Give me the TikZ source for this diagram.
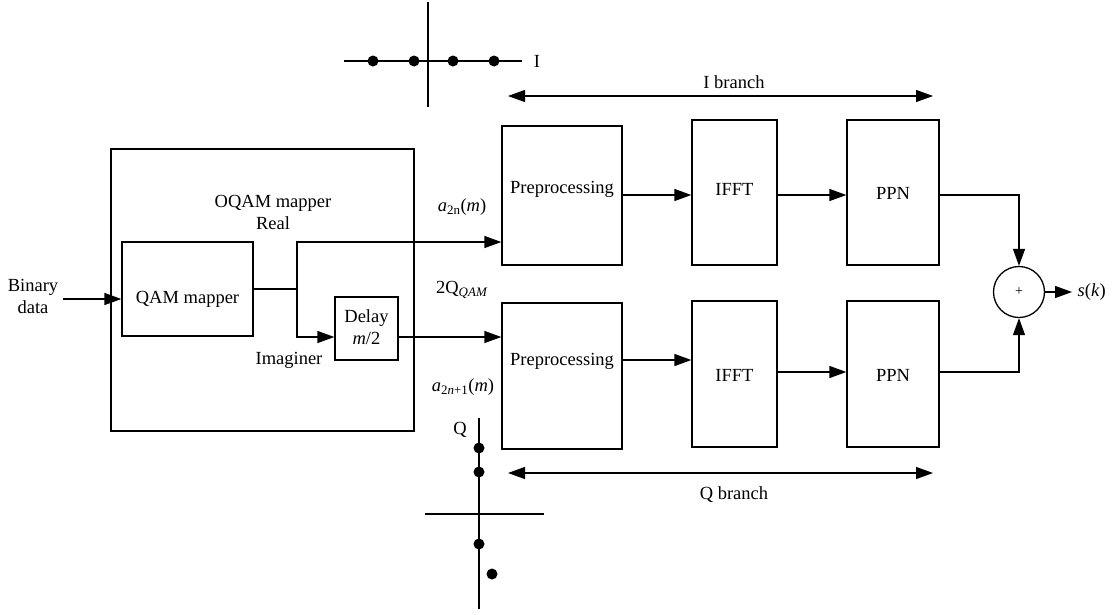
\documentclass[tikz,border=0pt]{standalone}
\usepackage{fontspec}
\setmainfont{Liberation Serif}
\usetikzlibrary{arrows.meta,calc}
\begin{document}
\begin{tikzpicture}[x=1pt,y=-1pt,
  line width=1.3pt,
  every node/.style={font=\fontsize{18.5}{22}\selectfont, inner sep=0pt},
  blk/.style={draw, rectangle},
  txt/.style={align=center},
  arr/.style={-{Triangle[length=17pt,width=12pt]}},
  darr/.style={{Triangle[length=17pt,width=12pt]}-{Triangle[length=17pt,width=12pt]}},
  dot/.style={fill=black}]
\useasboundingbox (0,0) rectangle (1115,614);

% ---- blocks ----
\node[blk, minimum width=303pt, minimum height=282pt] (oqam) at (262.5,290) {};
\node[blk, minimum width=131pt, minimum height=94pt] (qam) at (187.5,289) {};
\node[blk, minimum width=63pt, minimum height=63pt] (delay) at (366.5,328.5) {};
\node[blk, minimum width=120pt, minimum height=139pt] (pre1) at (562,195.5) {};
\node[blk, minimum width=120pt, minimum height=146pt] (pre2) at (562,376) {};
\node[blk, minimum width=85pt, minimum height=145pt] (ifft1) at (734.5,192.5) {};
\node[blk, minimum width=85pt, minimum height=146pt] (ifft2) at (734.5,374) {};
\node[blk, minimum width=92pt, minimum height=145pt] (ppn1) at (893,192.5) {};
\node[blk, minimum width=92pt, minimum height=146pt] (ppn2) at (893,374) {};
\node[draw, circle, minimum size=51pt, font=\fontsize{14}{15}\selectfont] (sum) at (1019,292) {+};

% ---- block texts ----
\node (tqam) at (187.5,299) {QAM mapper};
\node[txt] (tdelay) at (366.5,327) {Delay\\\textit{m}/2};
\node (tpre1) at (562,189) {Preprocessing};
\node (tpre2) at (562,361) {Preprocessing};
\node (tifft1) at (734.5,189) {IFFT};
\node (tifft2) at (734.5,375) {IFFT};
\node (tppn1) at (893,193) {PPN};
\node (tppn2) at (893,375) {PPN};

% ---- labels ----
\node[txt] (toqam) at (273,212) {OQAM mapper\\Real};
\node (timag) at (289,360) {Imaginer};
\node[txt] (tbin) at (33,296) {Binary\\data};
\node (ta2n) at (462,207) {\textit{a}\textsubscript{2n}(\textit{m})};
\node (t2q) at (462,290) {2Q\textsubscript{\textit{QAM}}};
\node (ta2n1) at (463,387) {\textit{a}\textsubscript{2\textit{n}+1}(\textit{m})};
\node (tsk) [anchor=west] at (1077,292) {\textit{s}(\textit{k})};
\node (tI) at (537,61) {I};
\node (tQ) at (460,430) {Q};
\node (tib) at (734,82) {I branch};
\node (tqb) at (734,495) {Q branch};

% ---- signal rows ----
\coordinate (rowa) at (0,242);
\coordinate (rowb) at (0,337);
\coordinate (rowc) at (0,195);
\coordinate (rowd) at (0,360);
\coordinate (rowe) at (0,372);
\coordinate (bin) at (63,299);
\coordinate (split) at (297,289);
\coordinate (out) at (1072,292);

\draw[arr] (bin) -- (bin -| qam.west);
\draw (qam.east) -- (split);
\draw[arr] (split) |- (pre1.west |- rowa);
\draw[arr] (split) |- (delay.west |- rowb);
\draw[arr] (delay.east |- rowb) -- (pre2.west |- rowb);
\draw[arr] (pre1.east |- rowc) -- (ifft1.west |- rowc);
\draw[arr] (ifft1.east |- rowc) -- (ppn1.west |- rowc);
\draw[arr] (pre2.east |- rowd) -- (ifft2.west |- rowd);
\draw[arr] (ifft2.east |- rowe) -- (ppn2.west |- rowe);
\draw[arr] (ppn1.east |- rowc) -| (sum.north);
\draw[arr] (ppn2.east |- rowe) -| (sum.south);
\draw[arr] (sum.east) -- (out);

% ---- branch spans ----
\coordinate (ib1) at (508,96);
\coordinate (ib2) at (933,96);
\coordinate (qb1) at (508,473);
\coordinate (qb2) at (933,473);
\draw[darr] (ib1) -- (ib2);
\draw[darr] (qb1) -- (qb2);

% ---- in-phase constellation ----
\draw (344,61) -- (522,61);
\draw (428,2) -- (428,107);
\foreach \x in {373,414,453,494} \fill[dot] (\x,61) circle (5.5pt);

% ---- quadrature constellation ----
\draw (479,418) -- (479,609);
\draw (425,514) -- (544,514);
\foreach \p in {(479,448),(479,472),(479,544),(492,574)} \fill[dot] \p circle (5.5pt);
\end{tikzpicture}
\end{document}
